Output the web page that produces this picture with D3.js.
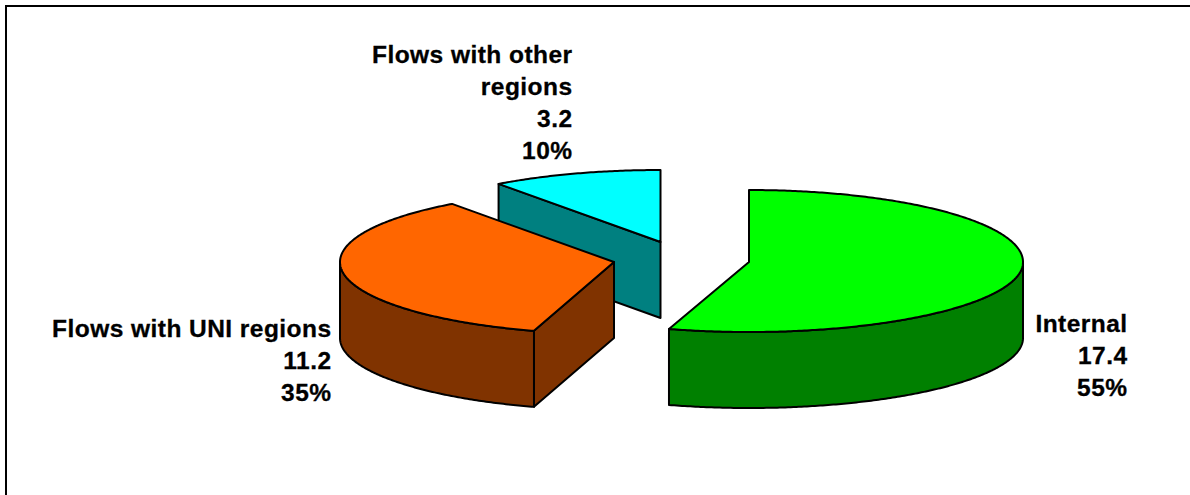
<!DOCTYPE html>
<html>
<head>
<meta charset="utf-8">
<script src="https://cdn.jsdelivr.net/npm/d3@7"></script>
<style>
  html, body { margin: 0; padding: 0; background: #fff; }
  svg { display: block; }
</style>
</head>
<body>
<div class="canvas"></div>
<script>
// chart values
const categories = ['Internal', 'Flows with UNI regions', 'Flows with other regions']
const values = [17.4, 11.2, 3.2]
const percents = ['55%', '35%', '10%']
const labelLines = [['Internal'], ['Flows with UNI regions'], ['Flows with other', 'regions']]

// colours, same order as categories
const topColors = ['#00ff00', '#ff6600', '#00ffff']
const wallColors = ['#008000', '#803300', '#008080']

// layout
const rx = 274, ryBack = 72, depth = 76
const ryFronts = [70, 72, 70]
const centers = [[749, 262], [614, 262], [660.5, 242]]
const labelPos = [[1127.5, 331.5], [331.5, 337], [572.5, 62.5]]
const lineHeight = 32.2

const svg = d3.select('.canvas').append('svg')
    .attr('width', 1190)
    .attr('height', 495)

// frame only runs along the top and left edge
svg.append('path')
    .attr('d', 'M6,495V6H1190')
    .attr('fill', 'none')
    .attr('stroke', '#000')
    .attr('stroke-width', 2)

// pie angles, clockwise from the top
const pie = d3.pie().sort(null)
const slices = pie(values)

// front half of the ellipse is a bit flatter than the back half
const pt = (i, a, dy = 0) => {
    const cos = Math.cos(a)
    return [
        centers[i][0] + rx * Math.sin(a),
        centers[i][1] - (cos > 0 ? ryBack : ryFronts[i]) * cos + dy
    ]
}
const arcPts = (i, a0, a1, dy = 0) => {
    const n = Math.max(2, Math.ceil(Math.abs(a1 - a0) / 0.01))
    return d3.range(n + 1).map(k => pt(i, a0 + (a1 - a0) * k / n, dy))
}
const line = d3.line()

const drawShape = (points, fill) => svg.append('path')
    .attr('d', line(points) + 'Z')
    .attr('fill', fill)
    .attr('stroke', '#000')
    .attr('stroke-width', 2)
    .attr('stroke-linejoin', 'round')

// back to front: cyan, orange, green
const drawOrder = [2, 1, 0]
drawOrder.forEach(i => {
    const s = slices[i]
    const c = centers[i]

    // cut face seen from the front, the green slice hides its own
    if (i !== 0) {
        const p = pt(i, s.startAngle)
        drawShape([c, p, [p[0], p[1] + depth], [c[0], c[1] + depth]], wallColors[i])
    }

    // outer rim, only the front half of the ellipse is visible
    const rimStart = Math.max(s.startAngle, Math.PI / 2)
    const rimEnd = Math.min(s.endAngle, Math.PI * 1.5)
    if (rimEnd > rimStart) {
        drawShape(
            arcPts(i, rimStart, rimEnd).concat(arcPts(i, rimEnd, rimStart, depth)),
            wallColors[i]
        )
    }

    // top face
    drawShape([c].concat(arcPts(i, s.startAngle, s.endAngle)), topColors[i])
})

// labels
categories.forEach((name, i) => {
    const lines = labelLines[i].concat([values[i].toFixed(1), percents[i]])
    const text = svg.append('text')
        .attr('text-anchor', 'end')
        .style('font-family', '"Liberation Sans", Arial, sans-serif')
        .style('font-weight', 700)
        .style('font-size', '24.5px')
        .style('letter-spacing', '0.45px')
        .attr('fill', '#000')
        .attr('stroke', '#000')
        .attr('stroke-width', 0.3)
    lines.forEach((l, k) => {
        text.append('tspan')
            .attr('x', labelPos[i][0])
            .attr('y', labelPos[i][1] + k * lineHeight)
            .text(l)
    })
})
</script>
</body>
</html>
